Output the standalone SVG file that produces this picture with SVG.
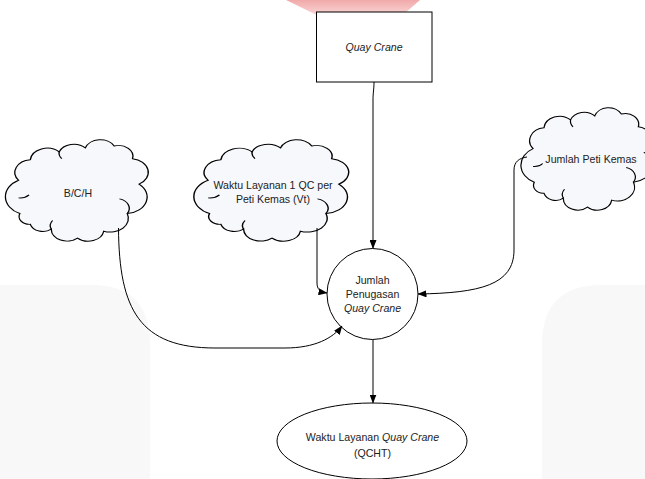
<svg xmlns="http://www.w3.org/2000/svg" width="645" height="479" viewBox="0 0 645 479">
<defs>
<linearGradient id="wmPink" x1="0" y1="0" x2="0" y2="1">
<stop offset="0" stop-color="#ef9a9a" stop-opacity="0.85"/>
<stop offset="1" stop-color="#f7d0d0" stop-opacity="0"/>
</linearGradient>
<marker id="ah" markerWidth="9" markerHeight="7" refX="8.5" refY="3.5" orient="auto" markerUnits="userSpaceOnUse">
<path d="M0,0 L9,3.5 L0,7 Z" fill="#000"/>
</marker>
<path id="cloud" d="M6,72 A19,19 0 0 1 5,38 A13,13 0 0 1 14,17 A13,13 0 0 1 36,9 A12,12 0 0 1 56,5 A12,12 0 0 1 78,3 A11,11 0 0 1 92,16 A14,14 0 0 1 97,42 A17,17 0 0 1 88,72 A14,14 0 0 1 70,90 A12,12 0 0 1 50,97 A12,12 0 0 1 30,88 A10,10 0 0 1 14,83 A8,8 0 0 1 6,72 Z"/>
<path id="curls" d="M82,57 A10,10 0 0 1 88,72 M30,88 A9,9 0 0 1 31,79 M5,56 A9,9 0 0 0 13,53 M36,9 A9,9 0 0 0 38,16"/>
</defs>
<style>
.shape{fill:#fff;stroke:#000;stroke-width:1}
.cl{fill:#f7f8fb;stroke:#000;stroke-width:1}
.cu{fill:none;stroke:#000;stroke-width:1}
.t{font-family:"Liberation Sans",Arial,sans-serif;font-size:10.6px;fill:#222;text-anchor:middle}
.i{font-style:italic}
.conn{fill:none;stroke:#000;stroke-width:1;marker-end:url(#ah)}
</style>
<rect width="645" height="479" fill="#fff"/>
<g id="watermark">
<polygon points="286,0 420,0 372,42" fill="url(#wmPink)"/>
<path d="M0,285 L92,285 Q150,285 150,345 L150,479 L0,479 Z" fill="#f8f8f8"/>
<path d="M645,285 L602,285 Q542,285 542,345 L542,479 L645,479 Z" fill="#f8f8f8"/>
</g>
<g id="node-quay-crane">
<rect class="shape" x="316.5" y="12" width="115.5" height="70"/>
<text class="t i" x="374" y="50.5">Quay Crane</text>
</g>
<g id="node-bch">
<g transform="translate(12,143) scale(1.31,0.98)">
<use href="#cloud" class="cl" vector-effect="non-scaling-stroke"/>
<use href="#curls" class="cu" vector-effect="non-scaling-stroke"/>
</g>
<text class="t" x="78" y="197">B/C/H</text>
</g>
<g id="node-waktu-vt">
<g transform="translate(201,143) scale(1.42,0.98)">
<use href="#cloud" class="cl" vector-effect="non-scaling-stroke"/>
<use href="#curls" class="cu" vector-effect="non-scaling-stroke"/>
</g>
<text class="t" x="273" y="189">Waktu Layanan 1 QC per</text>
<text class="t" x="273" y="203">Peti Kemas (Vt)</text>
</g>
<g id="node-jumlah-peti">
<g transform="translate(527,111) scale(1.21,0.99)">
<use href="#cloud" class="cl" vector-effect="non-scaling-stroke"/>
<use href="#curls" class="cu" vector-effect="non-scaling-stroke"/>
</g>
<text class="t" x="591" y="163">Jumlah Peti Kemas</text>
</g>
<g id="node-jumlah-penugasan">
<circle class="shape" cx="372.5" cy="294" r="45.5"/>
<text class="t" x="372.5" y="283.5">Jumlah</text>
<text class="t" x="372.5" y="297.5">Penugasan</text>
<text class="t i" x="372.5" y="311.5">Quay Crane</text>
</g>
<g id="node-qcht">
<ellipse class="shape" cx="372" cy="441" rx="95" ry="38"/>
<text class="t" x="372.5" y="441"><tspan>Waktu Layanan </tspan><tspan class="i">Quay Crane</tspan></text>
<text class="t" x="372.5" y="457">(QCHT)</text>
</g>
<g id="connectors">
<path class="conn" d="M374,82 C374,90 373,92 373,100 L373,248.5"/>
<path class="conn" d="M373,339.5 L373,403"/>
<path class="conn" d="M118.5,228 C119,310 140,348 215,348 L285,348 C315,348 333,338 342,326"/>
<path class="conn" d="M317,228 L317,283 C317,289 320,292 327,293"/>
<path class="conn" d="M527,157 C519,158 514,162 514,170 L514,250 C514,285 480,293 418,294"/>
</g>
</svg>
